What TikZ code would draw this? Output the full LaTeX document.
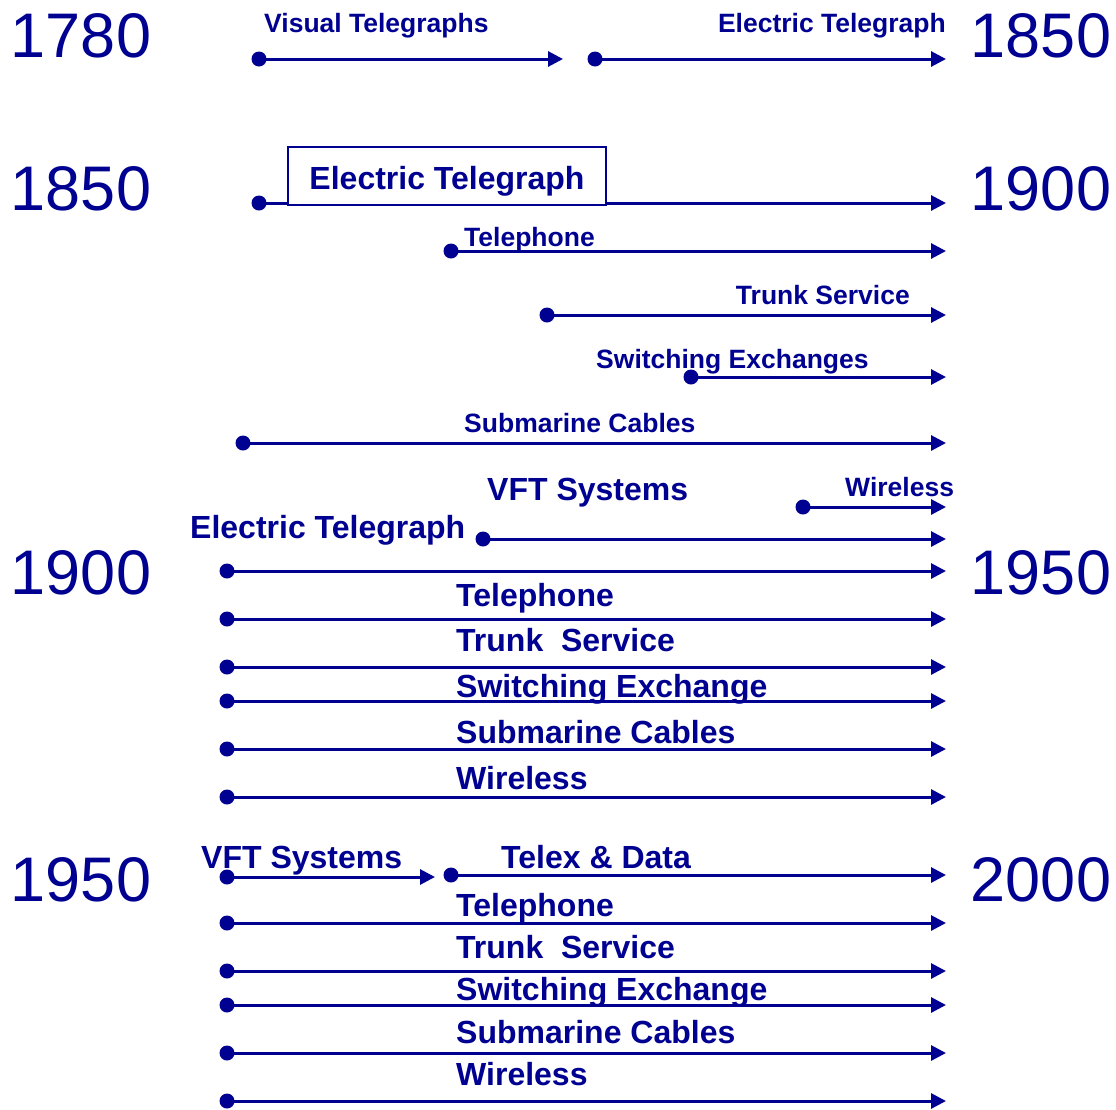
\documentclass[tikz,border=0pt]{standalone}
\usepackage{fontspec}
\setmainfont{Liberation Sans}
\usetikzlibrary{arrows.meta}
\definecolor{navy}{RGB}{0,0,145}
\begin{document}
\begin{tikzpicture}[
        x=1pt, y=-1pt,
        dot/.style={circle, fill=navy, inner sep=0pt, minimum size=15pt},
        tline/.style={navy, line width=3pt, -{Triangle[length=15pt, width=15pt]}},
        year/.style={navy, font=\fontsize{63}{63}\selectfont, anchor=base, inner sep=0pt},
        small/.style={navy, font=\fontsize{26.5}{26.5}\selectfont\bfseries, inner sep=0pt},
        big/.style={navy, font=\fontsize{32}{32}\selectfont\bfseries, inner sep=0pt}
    ]
        \useasboundingbox (0,0) rectangle (1116,1109);

        % Years, left and right
        \node[year] (y1780) at (81,57) {1780};
        \node[year] (y1850a) at (1041,57) {1850};
        \node[year] (y1850) at (81,210) {1850};
        \node[year] (y1900a) at (1041,210) {1900};
        \node[year] (y1900) at (81,594) {1900};
        \node[year] (y1950a) at (1041,594) {1950};
        \node[year] (y1950) at (81,901) {1950};
        \node[year] (y2000) at (1041,901) {2000};

        % 1780 - 1850
        \node[dot] (vis) at (259,59) {};
        \coordinate (vis-e) at (563,59);
        \draw[tline] (vis.center) -- (vis-e);
        \node[small, anchor=base west] (vis-l) at (264,32) {Visual Telegraphs};
        \node[dot] (ele) at (595,59) {};
        \coordinate (ele-e) at (946,59);
        \draw[tline] (ele.center) -- (ele-e);
        \node[small, anchor=base east] (ele-l) at (946,32) {Electric Telegraph};

        % 1850 - 1900
        \node[dot] (et) at (259,203) {};
        \coordinate (et-e) at (946,203);
        \draw[tline] (et.center) -- (et-e);
        \node[big, draw=navy, line width=1.5pt, fill=white, minimum width=318pt,
              minimum height=58pt, text height=28pt, text depth=2pt] (et-l) at (447,176) {Electric Telegraph};

        \node[dot] (tel) at (451,251) {};
        \coordinate (tel-e) at (946,251);
        \draw[tline] (tel.center) -- (tel-e);
        \node[small, anchor=base west] (tel-l) at (464,246) {Telephone};

        \node[dot] (tru) at (547,315) {};
        \coordinate (tru-e) at (946,315);
        \draw[tline] (tru.center) -- (tru-e);
        \node[small, anchor=base east] (tru-l) at (910,304) {Trunk Service};

        \node[dot] (swi) at (691,377) {};
        \coordinate (swi-e) at (946,377);
        \draw[tline] (swi.center) -- (swi-e);
        \node[small, anchor=base west] (swi-l) at (596,368) {Switching Exchanges};

        \node[dot] (sub) at (243,443) {};
        \coordinate (sub-e) at (946,443);
        \draw[tline] (sub.center) -- (sub-e);
        \node[small, anchor=base west] (sub-l) at (464,432) {Submarine Cables};

        \node[dot] (wir) at (803,507) {};
        \coordinate (wir-e) at (946,507);
        \draw[tline] (wir.center) -- (wir-e);
        \node[small, anchor=base west] (wir-l) at (845,496) {Wireless};

        \node[dot] (vft) at (483,539) {};
        \coordinate (vft-e) at (946,539);
        \draw[tline] (vft.center) -- (vft-e);
        \node[big, anchor=base west] (vft-l) at (487,500) {VFT Systems};

        % 1900 - 1950
        \node[big, anchor=base west] (et2-l) at (190,538) {Electric Telegraph};
        \foreach \y [count=\i] in {571,619,667,701,749,797} {
            \node[dot] (c\i) at (227,\y) {};
            \coordinate (c\i-e) at (946,\y);
            \draw[tline] (c\i.center) -- (c\i-e);
        }
        \node[big, anchor=base west] (c-tel) at (456,606) {Telephone};
        \node[big, anchor=base west] (c-tru) at (456,651) {Trunk\ \ Service};
        \node[big, anchor=base west] (c-swi) at (456,697) {Switching Exchange};
        \node[big, anchor=base west] (c-sub) at (456,743) {Submarine Cables};
        \node[big, anchor=base west] (c-wir) at (456,789) {Wireless};

        % 1950 - 2000
        \node[dot] (vft2) at (227,877) {};
        \coordinate (vft2-e) at (435,877);
        \draw[tline] (vft2.center) -- (vft2-e);
        \node[big, anchor=base west] (vft2-l) at (201,868) {VFT Systems};
        \node[dot] (tlx) at (451,875) {};
        \coordinate (tlx-e) at (946,875);
        \draw[tline] (tlx.center) -- (tlx-e);
        \node[big, anchor=base west] (tlx-l) at (501,868) {Telex \& Data};
        \foreach \y [count=\i] in {923,971,1005,1053,1101} {
            \node[dot] (d\i) at (227,\y) {};
            \coordinate (d\i-e) at (946,\y);
            \draw[tline] (d\i.center) -- (d\i-e);
        }
        \node[big, anchor=base west] (d-tel) at (456,916) {Telephone};
        \node[big, anchor=base west] (d-tru) at (456,958) {Trunk\ \ Service};
        \node[big, anchor=base west] (d-swi) at (456,1000) {Switching Exchange};
        \node[big, anchor=base west] (d-sub) at (456,1043) {Submarine Cables};
        \node[big, anchor=base west] (d-wir) at (456,1085) {Wireless};

    \end{tikzpicture}
\end{document}
